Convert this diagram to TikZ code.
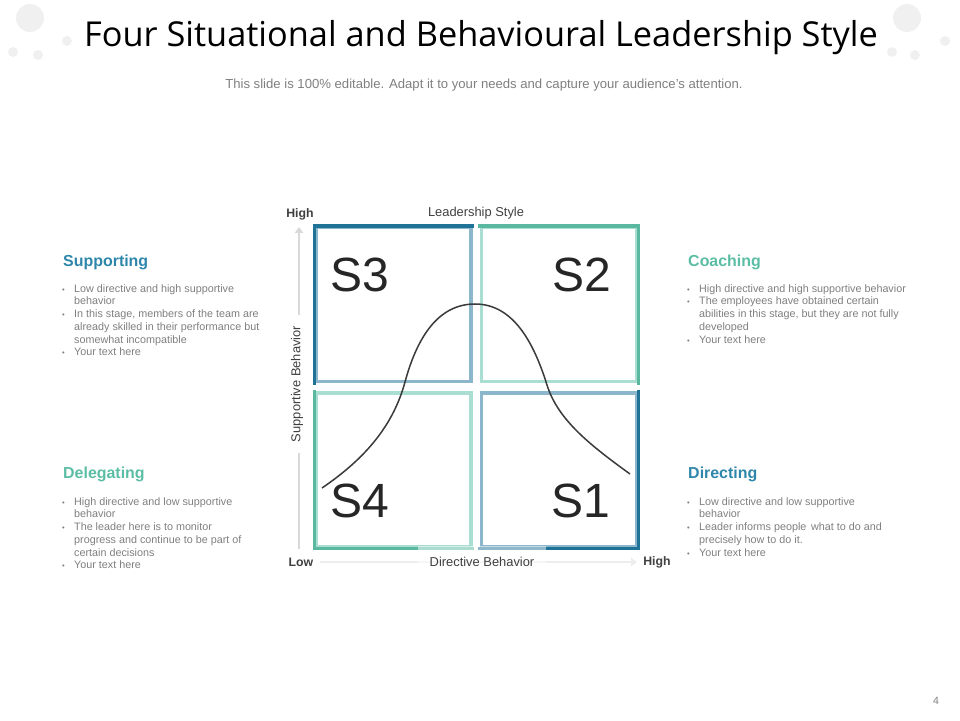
\documentclass[tikz,border=0pt]{standalone}
\usepackage{fontspec}
\setmainfont{Liberation Sans}
\newfontfamily\titlefont{Open Sans}
\usetikzlibrary{arrows.meta}

\newcommand{\itm}{\makebox[10.2pt][l]{\fontsize{6.5}{6.5}\selectfont\textbullet}}
\newcommand{\ind}{\hspace*{10.2pt}}

\begin{document}
\begin{tikzpicture}[
    x=0.03cm, y=-0.03cm,
    quad/.style={draw, line width=2.6pt, minimum width=4.65cm, minimum height=4.62cm, inner sep=0pt},
    edge/.style={line width=2.6pt, line cap=rect},
    slabel/.style={font=\fontsize{41}{41}\selectfont, text=txtdark, inner sep=0pt},
    heading/.style={font=\fontsize{13.6}{15}\selectfont\bfseries, anchor=west, inner sep=0pt},
    bullets/.style={font=\fontsize{9.2}{10.9}\selectfont, text=txtgray, align=left, anchor=north west, inner sep=0pt},
    axislabel/.style={font=\fontsize{11}{13}\selectfont, text=txtaxis, inner sep=1pt},
    axisend/.style={font=\fontsize{10.5}{12}\selectfont\bfseries, text=txtaxis, inner sep=1pt}
]

% Colors
\definecolor{bluedark}{RGB}{31,115,150}
\definecolor{bluelight}{RGB}{140,182,204}
\definecolor{tealdark}{RGB}{90,184,160}
\definecolor{teallight}{RGB}{170,222,210}
\definecolor{bluehead}{RGB}{46,134,171}
\definecolor{tealhead}{RGB}{92,189,165}
\definecolor{txtdark}{RGB}{38,38,38}
\definecolor{txtgray}{RGB}{127,127,127}
\definecolor{txtaxis}{RGB}{64,64,64}
\definecolor{axisgray}{RGB}{217,217,217}
\definecolor{axislight}{RGB}{237,237,237}
\definecolor{decogray}{RGB}{240,240,240}

\useasboundingbox (0,0) rectangle (960,720);

% Decoration
\foreach \cx/\cy/\r in {30/18/14, 67/41/5, 13/52/5, 38/55/5, 907/18/14, 945/41/5, 892/52/5, 915/55/5}
    \fill[decogray] (\cx,\cy) circle (\r);

% Title
\node[font=\titlefont\fontsize{29.3}{33}\selectfont] (title) at (481,38) {Four Situational and Behavioural Leadership Style};
\node[font=\fontsize{11.2}{13}\selectfont, text=txtgray] (subtitle) at (484,85) {This slide is 100\% editable. Adapt it to your needs and capture your audience's attention.};

% Quadrants
\node[quad, draw=bluelight] (s3box) at (393.5,304.5) {};
\node[quad, draw=teallight] (s2box) at (559,304.5) {};
\node[quad, draw=teallight] (s4box) at (393.5,470) {};
\node[quad, draw=bluelight] (s1box) at (559,470) {};
\draw[edge, bluedark] (s3box.south west) -- (s3box.north west) -- (s3box.north east);
\draw[edge, tealdark] (s2box.north west) -- (s2box.north east) -- (s2box.south east);
\draw[edge, tealdark] (s4box.north west) -- (s4box.south west) -- (s4box.south east);
\draw[edge, bluedark] (s1box.north east) -- (s1box.south east) -- (s1box.south west);

\node[slabel] (s3) at (360,275) {S3};
\node[slabel] (s2) at (582,275) {S2};
\node[slabel] (s4) at (360,501) {S4};
\node[slabel] (s1) at (581,501) {S1};

% Curve
\draw[line width=1.3pt, txtdark!90] (322,488) .. controls (360,462) and (392,430) .. (405,382)
    .. controls (418,334) and (440,304) .. (475,304)
    .. controls (512,304) and (533,340) .. (547,385)
    .. controls (558,420) and (590,445) .. (630,474);

% Axes
\coordinate (ybot) at (299,549);
\coordinate (ytop) at (299,227);
\coordinate (xleft) at (320,562);
\coordinate (xright) at (637,562);
\draw[line width=2.4pt, axisgray, -{Triangle[length=5pt, width=7pt]}] (ybot) -- (ytop);
\draw[line width=2.4pt, axislight, -{Triangle[length=5pt, width=7pt]}] (xleft) -- (xright);
\node[axislabel, rotate=90, fill=white, minimum width=4.14cm] (ylabel) at (297,384) {Supportive Behavior};
\node[axislabel, fill=white, fill opacity=0.5, text opacity=1, minimum width=3.84cm, minimum height=0.96cm] (xlabel) at (482,562) {Directive Behavior};
\node[axisend] (yhigh) at (300,214) {High};
\node[axisend] (xlow) at (301,562) {Low};
\node[axisend] (xhigh) at (657,562) {High};
\node[axislabel] (style) at (476,213) {Leadership Style};

% Side texts
\node[heading, text=bluehead] (supporting) at (63,262) {Supporting};
\node[bullets] (suptext) at (62,284) {\itm Low directive and high supportive\\
    \ind behavior\\
    \itm In this stage, members of the team are\\
    \ind already skilled in their performance but\\
    \ind somewhat incompatible\\
    \itm Your text here};

\node[heading, text=tealhead] (delegating) at (63,474) {Delegating};
\node[bullets] (deltext) at (62,497) {\itm High directive and low supportive\\
    \ind behavior\\
    \itm The leader here is to monitor\\
    \ind progress and continue to be part of\\
    \ind certain decisions\\
    \itm Your text here};

\node[heading, text=tealhead] (coaching) at (688,262) {Coaching};
\node[bullets] (coatext) at (687,284) {\itm High directive and high supportive behavior\\
    \itm The employees have obtained certain\\
    \ind abilities in this stage, but they are not fully\\
    \ind developed\\
    \itm Your text here};

\node[heading, text=bluehead] (directing) at (688,474) {Directing};
\node[bullets] (dirtext) at (687,497) {\itm Low directive and low supportive\\
    \ind behavior\\
    \itm Leader informs people\, what to do and\\
    \ind precisely how to do it.\\
    \itm Your text here};

% Page number
\node[font=\fontsize{9}{11}\selectfont, text=txtgray] (page) at (936,701) {4};

\end{tikzpicture}
\end{document}
